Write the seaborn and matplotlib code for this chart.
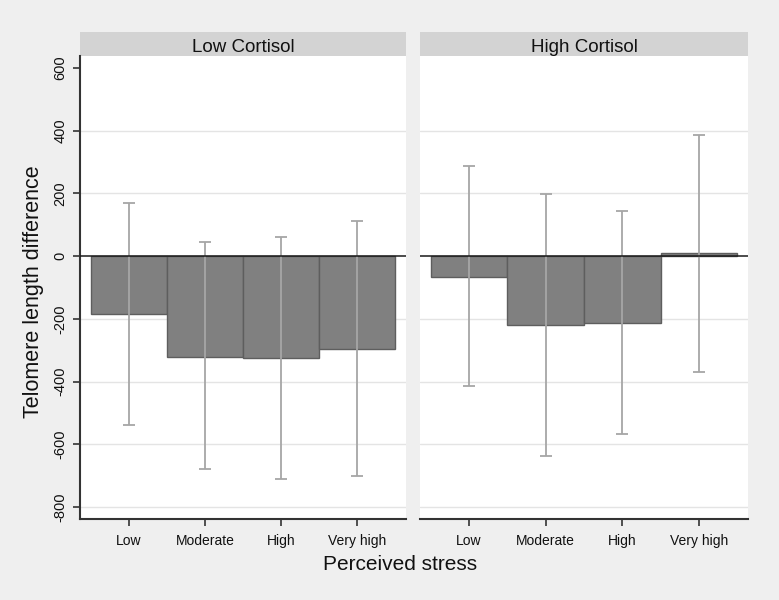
import pandas as pd
import matplotlib
matplotlib.use("Agg")
import matplotlib.pyplot as plt
import seaborn as sns
from matplotlib.patches import Rectangle

# Data
stress_levels = ["Low", "Moderate", "High", "Very high"]
panels = ["Low Cortisol", "High Cortisol"]

low_cortisol_mean = [-186, -321, -324, -297]
low_cortisol_upper = [169, 44, 60, 113]
low_cortisol_lower = [-539, -680, -709, -702]

high_cortisol_mean = [-66, -220, -213, 11]
high_cortisol_upper = [287, 199, 145, 386]
high_cortisol_lower = [-415, -638, -566, -369]

y_ticks = [-800, -600, -400, -200, 0, 200, 400, 600]

sns.set_style("white")
plt.rcParams["font.family"] = ["Liberation Sans", "DejaVu Sans"]

bg = "#efefef"
fig = plt.figure(figsize=(7.79, 6.0), dpi=100, facecolor=bg)

ax_left = fig.add_axes([80 / 779, 81 / 600, 326 / 779, 463 / 600])
ax_right = fig.add_axes([420 / 779, 81 / 600, 328 / 779, 463 / 600])

series = [
    (ax_left, panels[0], low_cortisol_mean, low_cortisol_lower, low_cortisol_upper),
    (ax_right, panels[1], high_cortisol_mean, high_cortisol_lower, high_cortisol_upper),
]

for ax, title, means, lower, upper in series:
    df = pd.DataFrame({"stress": stress_levels, "diff": means})
    ax.set_facecolor("white")

    # gridlines first so bars sit on top
    for t in y_ticks:
        if t not in (0, 600):
            ax.axhline(t, color="#e4e4e4", lw=1.0, zorder=0)

    sns.barplot(data=df, x="stress", y="diff", order=stress_levels, ax=ax,
                color="#808080", width=1.0, edgecolor="#5e5e5e", linewidth=1.0,
                saturation=1, errorbar=None, zorder=2)

    err_low = [m - lo for m, lo in zip(means, lower)]
    err_high = [hi - m for m, hi in zip(means, upper)]
    ax.errorbar(range(len(stress_levels)), means, yerr=[err_low, err_high],
                fmt="none", ecolor="#a6a6a6", elinewidth=1.3, capsize=4,
                capthick=1.3, zorder=3)

    ax.axhline(0, color="#1a1a1a", lw=1.1, zorder=4)

    ax.set_xlim(-0.64, 3.64)
    ax.set_ylim(-838, 638)
    ax.set_xlabel("")
    ax.set_ylabel("")
    ax.tick_params(axis="x", length=5, width=1.2, color="#333333",
                   labelsize=10, labelcolor="#111111", pad=6, bottom=True)

    for side in ["top", "right", "left"]:
        ax.spines[side].set_visible(False)
    ax.spines["bottom"].set_color("#333333")
    ax.spines["bottom"].set_linewidth(1.5)

    # panel header strip
    strip_h = 24 / 463
    ax.add_patch(Rectangle((0, 1), 1, strip_h, transform=ax.transAxes,
                           facecolor="#d3d3d3", edgecolor="none", clip_on=False))
    ax.text(0.5, 1 + strip_h * 0.45, title, transform=ax.transAxes,
            ha="center", va="center_baseline", fontsize=13.5, color="#111111")

ax_left.spines["left"].set_visible(True)
ax_left.spines["left"].set_color("#333333")
ax_left.spines["left"].set_linewidth(1.5)
ax_left.set_yticks(y_ticks)
ax_left.set_yticklabels([str(t) for t in y_ticks], rotation=90, va="center")
ax_left.tick_params(axis="y", length=5, width=1.2, color="#333333",
                    labelsize=10.5, labelcolor="#111111", pad=4, left=True)

ax_right.set_yticks([])

fig.text(34 / 779, 1 - 292 / 600, "Telomere length difference", rotation=90,
         ha="center", va="center", fontsize=15.5, color="#111111")
fig.text(400 / 779, 1 - 565 / 600, "Perceived stress",
         ha="center", va="center", fontsize=15, color="#111111")

fig.savefig("out.png", dpi=100, facecolor=bg)
